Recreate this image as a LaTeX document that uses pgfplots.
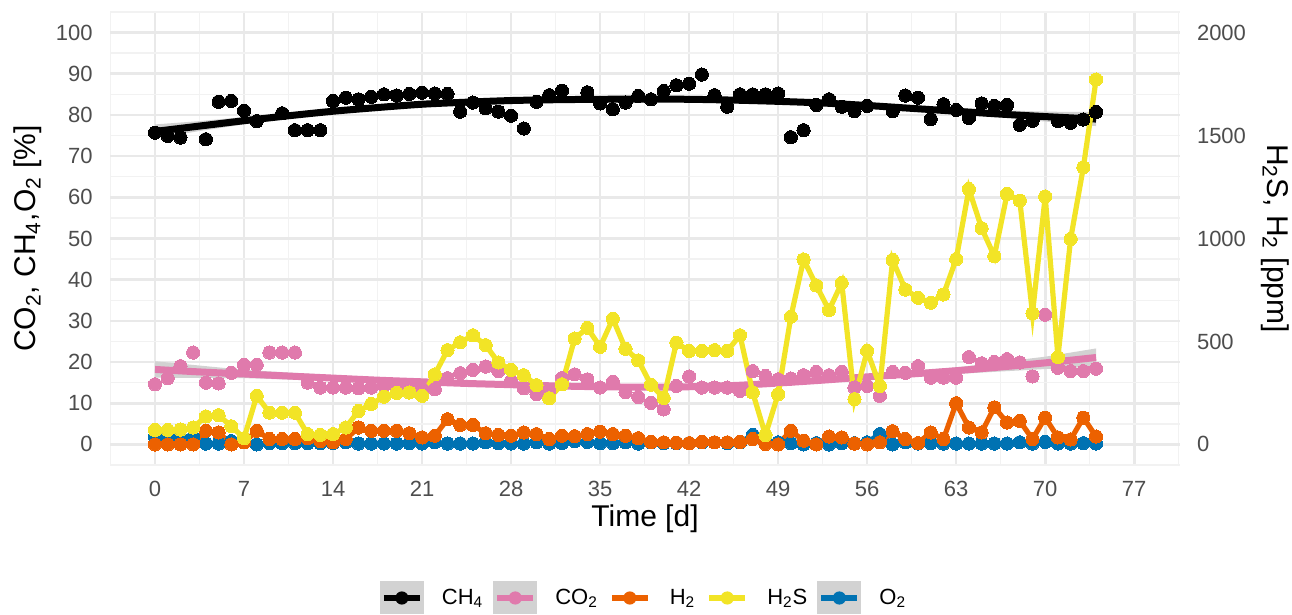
\documentclass[border=0pt]{standalone}
\usepackage{fontspec}
\setmainfont{Liberation Sans}
\usepackage{pgfplots}
\pgfplotsset{compat=1.18}
\usepackage{pgfplotstable}
\definecolor{cpink}{RGB}{224,122,172}
\definecolor{corange}{RGB}{236,97,0}
\definecolor{cyellow}{RGB}{242,228,38}
\definecolor{cblue}{RGB}{0,114,178}
\definecolor{gridc}{RGB}{233,233,233}
\definecolor{gridm}{RGB}{242,242,242}
\definecolor{tickc}{RGB}{77,77,77}
\definecolor{bandc}{RGB}{210,210,210}
\newcommand\tk[1]{{\fontsize{11}{13}\selectfont\color{tickc}#1}}

\pgfplotstableread{
d ch4 co2 h2 h2s o2
0 75.7 14.6 0 70 1.8
1 74.9 16.1 0 70 1.8
2 74.5 19.0 0 72 1.8
3 nan 22.3 0 82 1.8
4 74.1 15.0 66 136 0.2
5 83.2 14.8 58 142 0.2
6 83.4 17.4 0 88 0.8
7 81.0 19.3 10 30 0.5
8 78.5 19.3 66 236 0
9 nan 22.3 26 154 0.3
10 80.4 22.3 26 154 0.3
11 76.3 22.3 26 154 0.3
12 76.3 15.0 30 50 0.3
13 76.3 13.8 16 46 0.3
14 83.4 13.8 10 50 0.3
15 84.2 13.8 26 82 0.5
16 83.8 13.6 82 162 0.2
17 84.4 13.8 66 196 0.2
18 85.0 14.4 66 232 0.2
19 84.7 14.0 66 250 0.2
20 85.1 14.0 54 252 0.3
21 85.4 13.5 34 236 0.2
22 85.2 13.4 42 340 0.5
23 85.1 16.1 122 458 0.2
24 80.8 17.3 94 496 0.2
25 83.0 18.1 94 530 0.2
26 81.6 18.9 54 482 0.5
27 80.8 17.8 46 398 0.3
28 79.8 15.4 42 362 0.2
29 76.7 13.6 58 336 0.2
30 83.2 12.2 50 288 0.5
31 84.8 13.0 26 224 0.2
32 85.9 16.1 42 292 0.3
33 nan 17.0 40 514 0.8
34 85.5 15.8 50 566 0.6
35 82.8 13.8 62 474 0.3
36 81.4 15.2 50 610 0.3
37 83.0 12.7 42 464 0.5
38 84.6 11.5 30 408 0.2
39 83.8 10.1 12 290 0.5
40 85.8 8.5 10 226 0.3
41 87.2 14.2 8 494 0.3
42 87.6 16.5 6 454 0.3
43 89.8 13.8 12 454 0.5
44 84.8 13.8 10 458 0.5
45 82.0 13.8 10 454 0.3
46 85.0 13.0 12 530 0.5
47 85.0 17.8 26 252 2.3
48 85.0 16.6 2 46 0.8
49 85.2 15.8 0 244 0.5
50 74.6 16.0 66 620 0.3
51 76.3 16.8 18 898 0
52 82.4 17.6 0 772 0.3
53 83.8 16.8 38 652 0
54 82.0 17.6 34 784 0.3
55 80.9 13.8 4 220 0.3
56 82.2 14.2 0 454 0.5
57 nan 11.8 10 284 2.5
58 80.9 17.6 64 896 0
59 84.7 17.4 26 752 0.5
60 84.2 19.0 6 712 0.2
61 79.0 16.2 58 688 0.3
62 82.6 16.2 26 728 0.2
63 81.2 16.2 200 900 0.2
64 79.3 21.2 82 1240 0.2
65 82.8 19.7 58 1050 0.2
66 82.2 20.0 180 914 0.2
67 82.4 20.7 106 1216 0.2
68 77.6 19.9 114 1184 0.5
69 78.6 16.5 26 636 0.2
70 nan 31.5 130 1204 0.6
71 78.5 18.6 34 424 0.2
72 78.1 17.8 24 998 0.2
73 78.9 17.8 130 1346 0.3
74 80.7 18.4 38 1772 0.2
}\data

\begin{document}
\begin{tikzpicture}
\begin{axis}[
  at={(0,0)}, anchor=south west,
  scale only axis, width=535pt, height=226.5pt,
  xmin=-3.54, xmax=80.6, ymin=-5, ymax=105,
  axis line style={draw=none},
  major tick length=0pt, minor tick length=0pt,
  xtick={0,7,14,21,28,35,42,49,56,63,70,77},
  xticklabels={\tk{0},\tk{7},\tk{14},\tk{21},\tk{28},\tk{35},\tk{42},\tk{49},\tk{56},\tk{63},\tk{70},\tk{77}},
  minor xtick={-3.5,3.5,...,80.5},
  ytick={0,10,20,30,40,50,60,70,80,90,100},
  yticklabels={\tk{0},\tk{10},\tk{20},\tk{30},\tk{40},\tk{50},\tk{60},\tk{70},\tk{80},\tk{90},\tk{100}},
  minor ytick={-5,5,...,105},
  grid=both,
  major grid style={color=gridc, line width=1.3pt},
  minor grid style={color=gridm, line width=0.7pt},
  xticklabel style={anchor=north, inner sep=0pt, yshift=-8pt, font=\fontsize{11}{13}\selectfont, text=tickc},
  yticklabel style={anchor=east, inner sep=0pt, xshift=-8.5pt, font=\fontsize{11}{13}\selectfont, text=tickc},
  xlabel={Time [d]},
  ylabel={CO\textsubscript{2}, CH\textsubscript{4},O\textsubscript{2} [\%]},
  label style={font=\fontsize{15}{18}\selectfont},
  xlabel style={at={(axis description cs:0.5,-0.119)}, anchor=center},
  ylabel style={at={(axis description cs:-0.0766,0.5)}, anchor=center},
  legend columns=-1,
  legend style={at={(axis description cs:0.5,-0.2936)}, anchor=center,
    draw=none, fill=none, font=\fontsize{11}{13}\selectfont,
    /tikz/every even column/.append style={column sep=3pt},
    /tikz/every odd column/.append style={column sep=7pt},
    nodes={inner sep=2pt}},
]
% confidence bands
\addplot[fill=bandc, draw=none, forget plot] coordinates {
(0,77.7) (3.5,78.5) (7,79.5) (10.5,80.5) (14,81.5) (21,83.1) (28,84.0) (35,84.3) (42,84.3) (49,83.8) (56,82.9) (63,81.6) (67,81.1) (70,80.8) (74,80.7)
(74,77.3) (70,78.4) (67,79.3) (63,80.2) (56,81.7) (49,82.8) (42,83.3) (35,83.3) (28,83.0) (21,82.1) (14,80.3) (10.5,79.1) (7,77.7) (3.5,76.1) (0,74.3)} -- cycle;
\addplot[fill=bandc, draw=none, forget plot] coordinates {
(0,20.2) (7,18.1) (14,16.8) (21,15.8) (28,15.1) (35,14.6) (42,14.6) (49,15.5) (56,17.0) (63,18.7) (70,21.3) (74,23.3)
(74,18.9) (70,18.3) (63,17.1) (56,15.8) (49,14.3) (42,13.4) (35,13.4) (28,13.9) (21,14.6) (14,15.4) (7,16.1) (0,16.2)} -- cycle;
% CO2 points and trend
\addplot[cpink, only marks, mark=*, mark size=3.3pt, mark options={fill=cpink, draw=cpink, line width=0pt}, forget plot] table[x=d, y=co2]{\data};
\addplot[cpink, line width=3.5pt, smooth, tension=0.5, forget plot] coordinates {
(0,18.2) (3.5,17.6) (7,17.1) (10.5,16.6) (14,16.1) (17.5,15.6) (21,15.2) (24.5,14.8) (28,14.5) (31.5,14.2) (35,14.0) (38.5,13.9) (42,14.0) (45.5,14.3) (49,14.9) (52.5,15.6) (56,16.4) (59.5,17.1) (63,17.9) (66.5,18.8) (70,19.8) (74,21.1)};
% CH4 points and trend
\addplot[black, only marks, mark=*, mark size=3.3pt, mark options={fill=black, draw=black, line width=0pt}, forget plot] table[x=d, y=ch4]{\data};
\addplot[black, line width=3.5pt, smooth, tension=0.5, forget plot] coordinates {
(0,76.0) (3.5,77.3) (7,78.6) (10.5,79.8) (14,80.9) (17.5,81.8) (21,82.6) (24.5,83.1) (28,83.5) (31.5,83.7) (35,83.8) (38.5,83.85) (42,83.8) (45.5,83.6) (49,83.3) (52.5,82.9) (56,82.3) (59.5,81.6) (63,80.9) (66.5,80.2) (70,79.6) (74,79.0)};
% O2
\addplot[cblue, line width=2.6pt, mark=*, mark size=3.3pt, mark options={fill=cblue, draw=cblue, line width=0pt}, forget plot] table[x=d, y=o2]{\data};
% H2
\addplot[corange, line width=2.6pt, mark=*, mark size=3.3pt, mark options={fill=corange, draw=corange, line width=0pt}, forget plot] table[x=d, y expr=\thisrow{h2}/20]{\data};
% H2S
\addplot[cyellow, line width=2.6pt, mark=*, mark size=3.3pt, mark options={fill=cyellow, draw=cyellow, line width=0pt}, forget plot] table[x=d, y expr=\thisrow{h2s}/20]{\data};

% legend
\addlegendimage{black, legend image code/.code={
  \fill[bandc, draw=none] (0pt,-8.25pt) rectangle (22pt,8.25pt);
  \draw[line width=2.6pt] (2pt,0pt) -- (20pt,0pt);
  \fill[draw=none] (11pt,0pt) circle (3.3pt);}}
\addlegendentry{CH\textsubscript{4}}
\addlegendimage{cpink, legend image code/.code={
  \fill[bandc, draw=none] (0pt,-8.25pt) rectangle (22pt,8.25pt);
  \draw[line width=2.6pt] (2pt,0pt) -- (20pt,0pt);
  \fill[draw=none] (11pt,0pt) circle (3.3pt);}}
\addlegendentry{CO\textsubscript{2}}
\addlegendimage{corange, legend image code/.code={
  \path[draw=none, fill=none] (0pt,-8.25pt) rectangle (22pt,8.25pt);
  \draw[line width=2.6pt] (2pt,0pt) -- (20pt,0pt);
  \fill[draw=none] (11pt,0pt) circle (3.3pt);}}
\addlegendentry{H\textsubscript{2}}
\addlegendimage{cyellow, legend image code/.code={
  \path[draw=none, fill=none] (0pt,-8.25pt) rectangle (22pt,8.25pt);
  \draw[line width=2.6pt] (2pt,0pt) -- (20pt,0pt);
  \fill[draw=none] (11pt,0pt) circle (3.3pt);}}
\addlegendentry{H\textsubscript{2}S}
\addlegendimage{cblue, legend image code/.code={
  \fill[bandc, draw=none] (0pt,-8.25pt) rectangle (22pt,8.25pt);
  \draw[line width=2.6pt] (2pt,0pt) -- (20pt,0pt);
  \fill[draw=none] (11pt,0pt) circle (3.3pt);}}
\addlegendentry{O\textsubscript{2}}
\end{axis}

\begin{axis}[
  at={(0,0)}, anchor=south west,
  scale only axis, width=535pt, height=226.5pt,
  xmin=-3.54, xmax=80.6, ymin=-100, ymax=2100,
  hide x axis, axis y line*=right, axis line style={draw=none},
  major tick length=0pt, minor tick length=0pt,
  ytick={0,500,1000,1500,2000}, yticklabels={\tk{0},\tk{500},\tk{1000},\tk{1500},\tk{2000}},
  yticklabel style={anchor=west, inner sep=0pt, xshift=8.3pt, font=\fontsize{11}{13}\selectfont, text=tickc},
  ylabel={H\textsubscript{2}S, H\textsubscript{2} [ppm]},
  ylabel style={at={(axis description cs:1.0888,0.5)}, anchor=center, rotate=180, font=\fontsize{15}{18}\selectfont},
]
\end{axis}
\pgfresetboundingbox
\useasboundingbox (-55pt,-75pt) rectangle (591pt,232.5pt);
\end{tikzpicture}
\end{document}
